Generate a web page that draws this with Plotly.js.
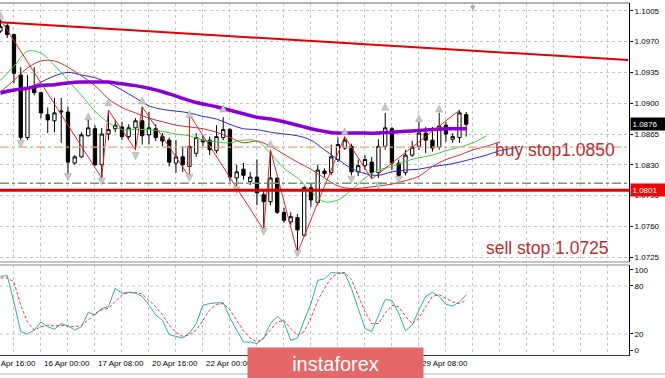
<!DOCTYPE html>
<html><head><meta charset="utf-8">
<script src="https://cdn.plot.ly/plotly-3.0.1.min.js"></script>
<style>html,body{margin:0;padding:0;background:#fff;}#chart{width:665px;height:378px;}</style>
</head><body><div id="chart"></div>
<script>
// ---- candles (H4 bars; bar 0 = 16 Apr 00:00) ----
const firstBar = -6;
const open  = [1.0982,1.0988,1.0978,1.0932,1.0861,1.0918,1.0912,1.0887,1.0880,1.0890,
               1.0890,1.0832,1.0839,1.0863,1.0871,1.0830,1.0865,1.0871,1.0873,1.0862,
               1.0872,1.0880,1.0864,1.0871,1.0862,1.0858,1.0832,1.0839,1.0828,1.0843,
               1.0858,1.0858,1.0846,1.0861,1.0870,1.0815,1.0825,1.0811,1.0816,1.0796,
               1.0788,1.0815,1.0776,1.0765,1.0770,1.0750,1.0804,1.0787,1.0823,1.0821,
               1.0836,1.0849,1.0851,1.0822,1.0829,1.0833,1.0821,1.0851,1.0871,1.0832,
               1.0821,1.0841,1.0851,1.0866,1.0858,1.0850,1.0875,1.0859,1.0861,1.0887];
const high  = [1.0995,1.0992,1.0979,1.0941,1.0932,1.0941,1.0913,1.0895,1.0906,1.0906,
               1.0896,1.0841,1.0867,1.0881,1.0875,1.0872,1.0892,1.0881,1.0879,1.0876,
               1.0883,1.0896,1.0890,1.0876,1.0866,1.0861,1.0858,1.0851,1.0887,1.0866,
               1.0863,1.0862,1.0875,1.0884,1.0872,1.0830,1.0832,1.0822,1.0836,1.0801,
               1.0847,1.0816,1.0781,1.0776,1.0774,1.0806,1.0809,1.0830,1.0826,1.0853,
               1.0861,1.0862,1.0854,1.0836,1.0841,1.0839,1.0859,1.0889,1.0873,1.0836,
               1.0847,1.0857,1.0879,1.0873,1.0873,1.0889,1.0879,1.0866,1.0892,1.0890];
const low   = [1.0980,1.0974,1.0923,1.0858,1.0858,1.0909,1.0883,1.0866,1.0867,1.0855,
               1.0816,1.0830,1.0838,1.0862,1.0829,1.0815,1.0858,1.0867,1.0858,1.0859,
               1.0847,1.0853,1.0853,1.0857,1.0851,1.0828,1.0821,1.0822,1.0816,1.0839,
               1.0851,1.0841,1.0843,1.0858,1.0811,1.0806,1.0813,1.0807,1.0784,1.0756,
               1.0784,1.0774,1.0764,1.0762,1.0730,1.0748,1.0782,1.0784,1.0816,1.0818,
               1.0833,1.0847,1.0818,1.0817,1.0824,1.0814,1.0815,1.0847,1.0824,1.0815,
               1.0818,1.0839,1.0847,1.0843,1.0845,1.0847,1.0856,1.0855,1.0855,1.0862];
const close = [1.0987,1.0978,1.0934,1.0861,1.0918,1.0912,1.0889,1.0881,1.0889,1.0891,
               1.0833,1.0839,1.0864,1.0872,1.0830,1.0865,1.0870,1.0875,1.0862,1.0872,
               1.0880,1.0863,1.0872,1.0861,1.0857,1.0833,1.0839,1.0830,1.0851,1.0861,
               1.0856,1.0847,1.0862,1.0870,1.0816,1.0822,1.0818,1.0816,1.0798,1.0788,
               1.0815,1.0776,1.0767,1.0771,1.0756,1.0804,1.0790,1.0824,1.0820,1.0839,
               1.0853,1.0858,1.0822,1.0829,1.0836,1.0821,1.0851,1.0872,1.0832,1.0818,
               1.0841,1.0850,1.0866,1.0858,1.0849,1.0874,1.0865,1.0862,1.0889,1.0876];
const bars = open.map((_, i) => firstBar + i);

// ---- moving averages (bar index, price) ----
const slowMaBars = [-6,-4,-2,0,2,4,6,8,10,12,14,16,18,20,22,24,26,28,30,32,34,36,38,40,42,44,46,48,50,52,54,56,58,60,62,63];
const slowMa     = [1.0912,1.0915,1.0917,1.0920,1.0921,1.0923,1.0924,1.0924,1.0924,1.0922,1.0920,1.0917,1.0913,1.0908,1.0903,1.0899,1.0896,1.0892,1.0888,1.0884,1.0882,1.0879,1.0875,1.0871,1.0868,1.0866,1.0866,1.0866,1.0866,1.0867,1.0868,1.0869,1.0870,1.0871,1.0871,1.0871];
const jawBars = [-6,-4,-2,0,2,4,6,8,10,12,14,16,18,20,22,24,26,28,30,32,34,36,38,40,42,44,46,48,50,52,54,56,58,60,62,64,66,68,70,71];
const jaw     = [1.0910,1.0914,1.0917,1.0924,1.0931,1.0935,1.0932,1.0929,1.0923,1.0915,1.0906,1.0897,1.0893,1.0891,1.0889,1.0885,1.0882,1.0876,1.0871,1.0870,1.0867,1.0865,1.0863,1.0858,1.0847,1.0836,1.0826,1.0820,1.0818,1.0822,1.0824,1.0825,1.0828,1.0830,1.0833,1.0837,1.0841,1.0846,1.0849,1.0851];
const teethBars = [-6,-4,-2,0,2,4,6,8,10,12,14,16,18,20,22,24,26,28,30,32,34,36,38,40,42,44,46,48,50,52,54,56,58,60,62,64,66,68];
const teeth     = [1.0913,1.0926,1.0940,1.0948,1.0948,1.0941,1.0931,1.0920,1.0905,1.0895,1.0889,1.0883,1.0879,1.0875,1.0873,1.0871,1.0867,1.0861,1.0855,1.0857,1.0851,1.0842,1.0833,1.0825,1.0815,1.0806,1.0803,1.0804,1.0806,1.0808,1.0812,1.0817,1.0828,1.0836,1.0841,1.0847,1.0851,1.0856];
const lipsBars = [-6,-4,-2,0,2,4,6,8,10,12,14,16,18,20,22,24,26,28,30,32,34,36,38,40,42,44,46,48,50,52,54,56,58,60,62,64,66];
const lips     = [1.0926,1.0942,1.0959,1.0957,1.0943,1.0926,1.0909,1.0891,1.0878,1.0870,1.0870,1.0870,1.0868,1.0865,1.0863,1.0858,1.0856,1.0855,1.0858,1.0857,1.0843,1.0826,1.0815,1.0800,1.0788,1.0790,1.0801,1.0815,1.0824,1.0828,1.0834,1.0838,1.0841,1.0846,1.0850,1.0855,1.0863];

// ---- zigzag & fractals ----
const zigBars   = [-6,9,10,14,15,22,22,33,34,38,45,49,62];
const zigPrices = [1.0995,1.0815,1.0892,1.0847,1.0896,1.0816,1.0887,1.0756,1.0847,1.0730,1.0862,1.0814,1.0892];
const fracUpBars = [-6,7,10,15,22,27,34,45,51,56,59];
const fracUp     = [1.1004,1.0889,1.0905,1.0907,1.0892,1.0898,1.0858,1.0872,1.0900,1.0887,1.0898];
const fracDnBars = [-3,4,9,14,22,29,33,38,46,50,53];
const fracDn     = [1.0850,1.0812,1.0807,1.0836,1.0811,1.0797,1.0750,1.0725,1.0809,1.0802,1.0809];

// ---- trend line and levels ----
const trendBars = [-6, 87];
const trendPrices = [1.0992, 1.0949];
const supportLevel = 1.0801;
const greenLevel = 1.0809;
const buyStopLevel = 1.0850;
const lastPrice = 1.0876;
const buyText = "buy stop1.0850";
const sellText = "sell stop 1.0725";
const buyTextPrice = 1.0847;
const sellTextPrice = 1.0735;

// ---- stochastic ----
const stochK = [92,93,60,23,20,25,35,29,26,33, 30,25,29,47,44,52,54,77,71,72,
                71,67,56,44,37,19,17,15,21,33, 56,58,59,59,40,25,10,10,8,15,
                33,42,35,12,15,37,58,87,89,97, 96,96,77,52,27,23,44,63,62,46,
                24,31,50,67,72,67,57,55,60,69];
const stochD = [90,90,85,56,35,25,29,31,30,31, 30,29,31,37,46,50,52,60,69,72,
                72,70,62,54,44,31,22,17,19,25, 37,50,57,58,50,37,24,15,10,15,
                25,35,37,27,19,23,40,62,77,90, 96,97,88,69,48,33,33,46,56,54,
                42,33,40,54,67,69,65,60,58,62];
const stochLevels = [20, 80];

// ---- time axis labels (the ones visible; others are under the logo) ----
const timeTickBars = [-8,0,8,16,24,56];
const timeTickLabels = ["14 Apr 16:00","16 Apr 00:00","17 Apr 08:00","20 Apr 16:00","22 Apr 00:00","29 Apr 08:00"];

const xRange = [-6.07, 87.12];
const yRange = [1.07195, 1.10139];
const stochRange = [-6.25, 106.25];
const mainDomain = [0.2642, 1];
const stochDomain = [0, 0.2557];
const toPaper = k => (k - xRange[0]) / (xRange[1] - xRange[0]);

const FONT = "Liberation Sans, Arial, sans-serif";

const traces = [
  {type:'candlestick', x:bars, open:open, high:high, low:low, close:close, xaxis:'x', yaxis:'y',
   increasing:{line:{color:'#000', width:1}, fillcolor:'#ffffff'},
   decreasing:{line:{color:'#000', width:1}, fillcolor:'#000000'},
   whiskerwidth:0, hoverinfo:'skip', showlegend:false},
  {type:'scatter', mode:'lines', x:trendBars, y:trendPrices, line:{color:'#e40000', width:2}, hoverinfo:'skip'},
  {type:'scatter', mode:'lines', x:jawBars, y:jaw, line:{color:'#2a2ac8', width:1, shape:'spline'}, hoverinfo:'skip'},
  {type:'scatter', mode:'lines', x:teethBars, y:teeth, line:{color:'#c83030', width:1, shape:'spline'}, hoverinfo:'skip'},
  {type:'scatter', mode:'lines', x:lipsBars, y:lips, line:{color:'#3ad23a', width:1, shape:'spline'}, hoverinfo:'skip'},
  {type:'scatter', mode:'lines', x:slowMaBars, y:slowMa, line:{color:'#8a00d2', width:3.5, shape:'spline'}, hoverinfo:'skip'},
  {type:'scatter', mode:'lines', x:zigBars, y:zigPrices, line:{color:'#d82a2a', width:1}, hoverinfo:'skip'},
  {type:'scatter', mode:'markers', x:fracUpBars, y:fracUp, marker:{symbol:'arrow-up', size:7, color:'#c8c8c8', line:{color:'#a0a0a0', width:0.5}}, hoverinfo:'skip'},
  {type:'scatter', mode:'markers', x:fracDnBars, y:fracDn, marker:{symbol:'arrow-down', size:7, color:'#c8c8c8', line:{color:'#a0a0a0', width:0.5}}, hoverinfo:'skip'},
  {type:'scatter', mode:'lines', x:bars, y:stochK, xaxis:'x', yaxis:'y2', line:{color:'#2ab0a6', width:1}, hoverinfo:'skip'},
  {type:'scatter', mode:'lines', x:bars, y:stochD, xaxis:'x', yaxis:'y2', line:{color:'#e03a3a', width:1, dash:'3px,2px'}, hoverinfo:'skip'}
];

const shapes = [
  {type:'line', xref:'paper', x0:0, x1:1, yref:'y', y0:buyStopLevel, y1:buyStopLevel, line:{color:'#e8a27c', width:1.3, dash:'dashdot'}},
  {type:'line', xref:'paper', x0:0, x1:1, yref:'y', y0:greenLevel, y1:greenLevel, line:{color:'#6e9e6e', width:1.3, dash:'dashdot'}},
  {type:'line', xref:'paper', x0:0, x1:1, yref:'y', y0:supportLevel, y1:supportLevel, line:{color:'#e40000', width:3}},
  {type:'line', xref:'paper', x0:0, x1:1, yref:'paper', y0:mainDomain[1], y1:mainDomain[1], line:{color:'#9a9a9a', width:1.5}},
  {type:'line', xref:'paper', x0:0, x1:1, yref:'paper', y0:mainDomain[0], y1:mainDomain[0], line:{color:'#8a8a8a', width:1}},
  {type:'line', xref:'paper', x0:0, x1:1, yref:'paper', y0:stochDomain[1], y1:stochDomain[1], line:{color:'#8a8a8a', width:1}},
  {type:'line', xref:'paper', x0:0, x1:1.06, yref:'paper', y0:-0.054, y1:-0.054, line:{color:'#b0b0b0', width:1}}
];
stochLevels.forEach(v => shapes.push({type:'line', xref:'paper', x0:0, x1:1, yref:'y2', y0:v, y1:v, layer:'below',
  line:{color:'#c4c4c4', width:1, dash:'3px,3px'}}));

const annotations = [];
timeTickBars.forEach((b, i) => annotations.push({xref:'paper', x:toPaper(b), xanchor:'left', xshift:1,
  yref:'paper', y:0, yanchor:'top', yshift:-2, text:timeTickLabels[i], showarrow:false,
  font:{family:FONT, size:8, color:'#000'}}));
annotations.push(
  {xref:'paper', x:1, xanchor:'left', xshift:1, yref:'y', y:lastPrice, yanchor:'middle', text:lastPrice.toFixed(4),
   showarrow:false, bgcolor:'#000', font:{family:FONT, size:8, color:'#fff'}, borderpad:1.5, width:31, align:'left'},
  {xref:'paper', x:1, xanchor:'left', xshift:1, yref:'y', y:supportLevel, yanchor:'middle', text:supportLevel.toFixed(4),
   showarrow:false, bgcolor:'#e80808', font:{family:FONT, size:8, color:'#fff'}, borderpad:1.5, width:31, align:'left'},
  {xref:'paper', x:493/629, xanchor:'left', yref:'y', y:buyTextPrice, yanchor:'middle', text:buyText, showarrow:false,
   font:{family:FONT, size:17.5, color:'#b4312f'}},
  {xref:'paper', x:484/629, xanchor:'left', yref:'y', y:sellTextPrice, yanchor:'middle', text:sellText, showarrow:false,
   font:{family:FONT, size:17.5, color:'#b4312f'}},
  {xref:'x', x:64, xanchor:'center', yref:'paper', y:1, yanchor:'top', yshift:1, text:'▼', showarrow:false,
   font:{family:'DejaVu Sans', size:7, color:'#a8a8a8'}},
  {xref:'paper', x:247/629, xanchor:'left', yref:'paper', y:(355-347)/352, yanchor:'top', text:'instaforex', showarrow:false,
   bgcolor:'#e46868', width:175, height:31, borderpad:0, align:'center', valign:'middle',
   font:{family:FONT, size:20, color:'#ffffff'}}
);

const gridStyle = {showgrid:true, gridcolor:'#c4c4c4', gridwidth:1, griddash:'3px,3px'};

const layout = {
  width:665, height:378, margin:{l:0, r:36, t:3, b:23},
  paper_bgcolor:'#ffffff', plot_bgcolor:'#ffffff', showlegend:false, dragmode:false,
  xaxis: Object.assign({range:xRange, anchor:'y2', tick0:0, dtick:4, showticklabels:false, zeroline:false,
    rangeslider:{visible:false}, showline:true, linecolor:'#3a3a3a', linewidth:1, ticks:''}, gridStyle),
  yaxis: Object.assign({domain:mainDomain, range:yRange, side:'right', anchor:'x', tick0:1.0725, dtick:0.0035,
    tickformat:'.4f', ticks:'outside', ticklen:3, tickcolor:'#000', showline:true, linecolor:'#000', zeroline:false,
    tickfont:{family:FONT, size:8, color:'#000'}}, gridStyle),
  yaxis2: {domain:stochDomain, range:stochRange, side:'right', anchor:'x', tickvals:[0,20,80,100],
    ticks:'outside', ticklen:3, tickcolor:'#000', showline:true, linecolor:'#000', showgrid:false, zeroline:false,
    tickfont:{family:FONT, size:8, color:'#000'}},
  shapes:shapes, annotations:annotations
};

Plotly.newPlot('chart', traces, layout, {staticPlot:true, displayModeBar:false});
</script>
</body></html>
